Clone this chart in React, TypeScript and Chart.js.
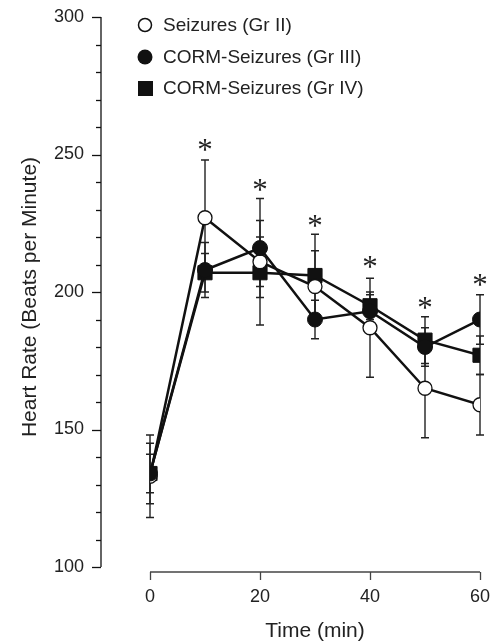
import React, { useEffect, useRef } from "react";
import { Chart, registerables } from "chart.js";

Chart.register(...registerables);

// ---- data ----
const timeMin = [0, 10, 20, 30, 40, 50, 60];
const seizuresGrII = [133, 227, 211, 202, 187, 165, 159];
const seizuresGrIIErr = [15, 21, 9, 13, 18, 18, 11];
const cormGrIII = [134, 208, 216, 190, 193, 180, 190];
const cormGrIIIErr = [11, 10, 18, 7, 6, 7, 9];
const cormGrIV = [134, 207, 207, 206, 195, 182.5, 177];
const cormGrIVErr = [7, 7, 19, 15, 5, 8.5, 7];
const starTimes = [10, 20, 30, 40, 50, 60];
const starValues = [253.5, 239, 226, 211, 196, 204.4];
const seriesLabels = ["Seizures (Gr II)", "CORM-Seizures (Gr III)", "CORM-Seizures (Gr IV)"];
const xTitle = "Time (min)";
const yTitle = "Heart Rate (Beats per Minute)";

const SANS = "'Liberation Sans', Arial, Helvetica, sans-serif";
const SERIF = "'Liberation Serif', 'Times New Roman', serif";

const decorPlugin = {
  id: "decor",
  beforeDatasetsDraw(chart: any) {
    const { ctx, chartArea, scales } = chart;
    const x = scales.x;
    const y = scales.y;
    ctx.save();
    // y axis (offset left)
    const axX = chartArea.left - 49;
    ctx.strokeStyle = "#111";
    ctx.lineWidth = 1.3;
    ctx.beginPath();
    ctx.moveTo(axX, y.getPixelForValue(300));
    ctx.lineTo(axX, y.getPixelForValue(100));
    ctx.stroke();
    for (let v = 100; v <= 300; v += 10) {
      const py = Math.round(y.getPixelForValue(v)) + 0.5;
      const len = v % 50 === 0 ? 9 : 5;
      ctx.beginPath();
      ctx.moveTo(axX - len, py);
      ctx.lineTo(axX, py);
      ctx.stroke();
    }
    // x axis (offset below)
    const axY = chartArea.bottom + 5;
    ctx.strokeStyle = "#444";
    ctx.beginPath();
    ctx.moveTo(x.getPixelForValue(0), axY);
    ctx.lineTo(x.getPixelForValue(60), axY);
    ctx.stroke();
    for (let t = 0; t <= 60; t += 20) {
      const px = Math.round(x.getPixelForValue(t)) + 0.5;
      ctx.beginPath();
      ctx.moveTo(px, axY);
      ctx.lineTo(px, axY + 8);
      ctx.stroke();
    }
    // error bars
    const groups = [
      [cormGrIV, cormGrIVErr],
      [seizuresGrII, seizuresGrIIErr],
      [cormGrIII, cormGrIIIErr],
    ];
    ctx.strokeStyle = "#222";
    ctx.lineWidth = 1.4;
    groups.forEach(([vals, errs]) => {
      vals.forEach((v: number, i: number) => {
        const px = x.getPixelForValue(timeMin[i]);
        const top = y.getPixelForValue(v + errs[i]);
        const bot = y.getPixelForValue(v - errs[i]);
        ctx.beginPath();
        ctx.moveTo(px, top);
        ctx.lineTo(px, bot);
        ctx.moveTo(px - 4, top);
        ctx.lineTo(px + 4, top);
        ctx.moveTo(px - 4, bot);
        ctx.lineTo(px + 4, bot);
        ctx.stroke();
      });
    });
    ctx.restore();
  },
  afterDatasetsDraw(chart: any) {
    const { ctx, chartArea, scales } = chart;
    const x = scales.x;
    const y = scales.y;
    ctx.save();
    // asterisks
    ctx.fillStyle = "#222";
    ctx.font = `100px ${SERIF}`;
    const m100 = ctx.measureText("*");
    const w100 = (m100.actualBoundingBoxLeft || 0) + (m100.actualBoundingBoxRight || 0) || 40;
    const size = Math.max(10, (13 / w100) * 100);
    ctx.font = `${size}px ${SERIF}`;
    ctx.textAlign = "center";
    ctx.textBaseline = "alphabetic";
    const m = ctx.measureText("*");
    const asc = m.actualBoundingBoxAscent || size * 0.7;
    const desc = m.actualBoundingBoxDescent || -size * 0.35;
    starTimes.forEach((t, i) => {
      const px = x.getPixelForValue(t);
      const py = y.getPixelForValue(starValues[i]);
      ctx.fillText("*", px, py + (asc - desc) / 2);
    });
    // legend
    const mx = chartArea.left - 5;
    const tx = chartArea.left + 13;
    const rows = [chartArea.top + 8, chartArea.top + 40, chartArea.top + 71];
    ctx.font = `19px ${SANS}`;
    ctx.textAlign = "left";
    ctx.textBaseline = "middle";
    ctx.lineWidth = 1.5;
    ctx.strokeStyle = "#111";
    ctx.fillStyle = "#fff";
    ctx.beginPath();
    ctx.arc(mx, rows[0], 6.5, 0, Math.PI * 2);
    ctx.fill();
    ctx.stroke();
    ctx.fillStyle = "#111";
    ctx.beginPath();
    ctx.arc(mx, rows[1], 7.5, 0, Math.PI * 2);
    ctx.fill();
    ctx.fillRect(mx - 7, rows[2] - 7, 15, 15);
    ctx.fillStyle = "#222";
    seriesLabels.forEach((s, i) => ctx.fillText(s, tx, rows[i] + 1));
    ctx.restore();
  },
  afterDraw(chart: any) {
    const { ctx, chartArea } = chart;
    ctx.save();
    ctx.fillStyle = "#222";
    ctx.font = `21px ${SANS}`;
    ctx.textAlign = "center";
    ctx.textBaseline = "middle";
    ctx.translate(chartArea.left - 120, (chartArea.top + chartArea.bottom) / 2 + 5);
    ctx.rotate(-Math.PI / 2);
    ctx.fillText(yTitle, 0, 0);
    ctx.restore();
  },
};

export default function App() {
  const ref = useRef<HTMLCanvasElement | null>(null);
  useEffect(() => {
    document.body.style.margin = "0";
    if (!ref.current) return;
    Chart.defaults.font.family = SANS;
    const chart = new Chart(ref.current, {
      type: "line",
      data: {
        datasets: [
          {
            label: seriesLabels[1],
            data: timeMin.map((t, i) => ({ x: t, y: cormGrIII[i] })),
            borderColor: "#111",
            borderWidth: 2.5,
            backgroundColor: "#111",
            pointBackgroundColor: "#111",
            pointBorderColor: "#111",
            pointBorderWidth: 1,
            pointRadius: 7.5,
            pointStyle: "circle",
          },
          {
            label: seriesLabels[0],
            data: timeMin.map((t, i) => ({ x: t, y: seizuresGrII[i] })),
            borderColor: "#111",
            borderWidth: 2.5,
            backgroundColor: "#fff",
            pointBackgroundColor: "#fff",
            pointBorderColor: "#111",
            pointBorderWidth: 1.3,
            pointRadius: 7,
            pointStyle: "circle",
          },
          {
            label: seriesLabels[2],
            data: timeMin.map((t, i) => ({ x: t, y: cormGrIV[i] })),
            borderColor: "#111",
            borderWidth: 2.5,
            backgroundColor: "#111",
            pointBackgroundColor: "#111",
            pointBorderColor: "#111",
            pointBorderWidth: 1,
            pointRadius: 10,
            pointStyle: "rect",
          },
        ],
      },
      options: {
        animation: false,
        responsive: false,
        devicePixelRatio: 1,
        layout: { padding: { top: 17, right: 18, left: 0, bottom: 0 } },
        plugins: {
          legend: { display: false },
          tooltip: { enabled: false },
        },
        scales: {
          x: {
            type: "linear",
            min: 0,
            max: 60,
            grid: { display: false, drawTicks: false },
            border: { display: false },
            ticks: { stepSize: 20, padding: 19, color: "#222", font: { size: 18 } },
            title: {
              display: true,
              text: xTitle,
              color: "#222",
              font: { size: 21 },
              padding: { top: 0, bottom: 0 },
            },
            afterFit: (s: any) => {
              s.height = 77;
              s.paddingLeft = 0;
              s.paddingRight = 0;
            },
          },
          y: {
            type: "linear",
            min: 100,
            max: 300,
            grid: { display: false, drawTicks: false },
            border: { display: false },
            ticks: { stepSize: 50, padding: 66, color: "#222", font: { size: 18 } },
            title: { display: false },
            afterFit: (s: any) => {
              s.width = 150;
              s.paddingTop = 0;
              s.paddingBottom = 0;
            },
          },
        },
      },
      plugins: [decorPlugin],
    });
    return () => chart.destroy();
  }, []);
  return (
    <div style={{ width: 498, height: 644, background: "#fff" }}>
      <canvas ref={ref} width={498} height={644} style={{ display: "block" }} />
    </div>
  );
}
